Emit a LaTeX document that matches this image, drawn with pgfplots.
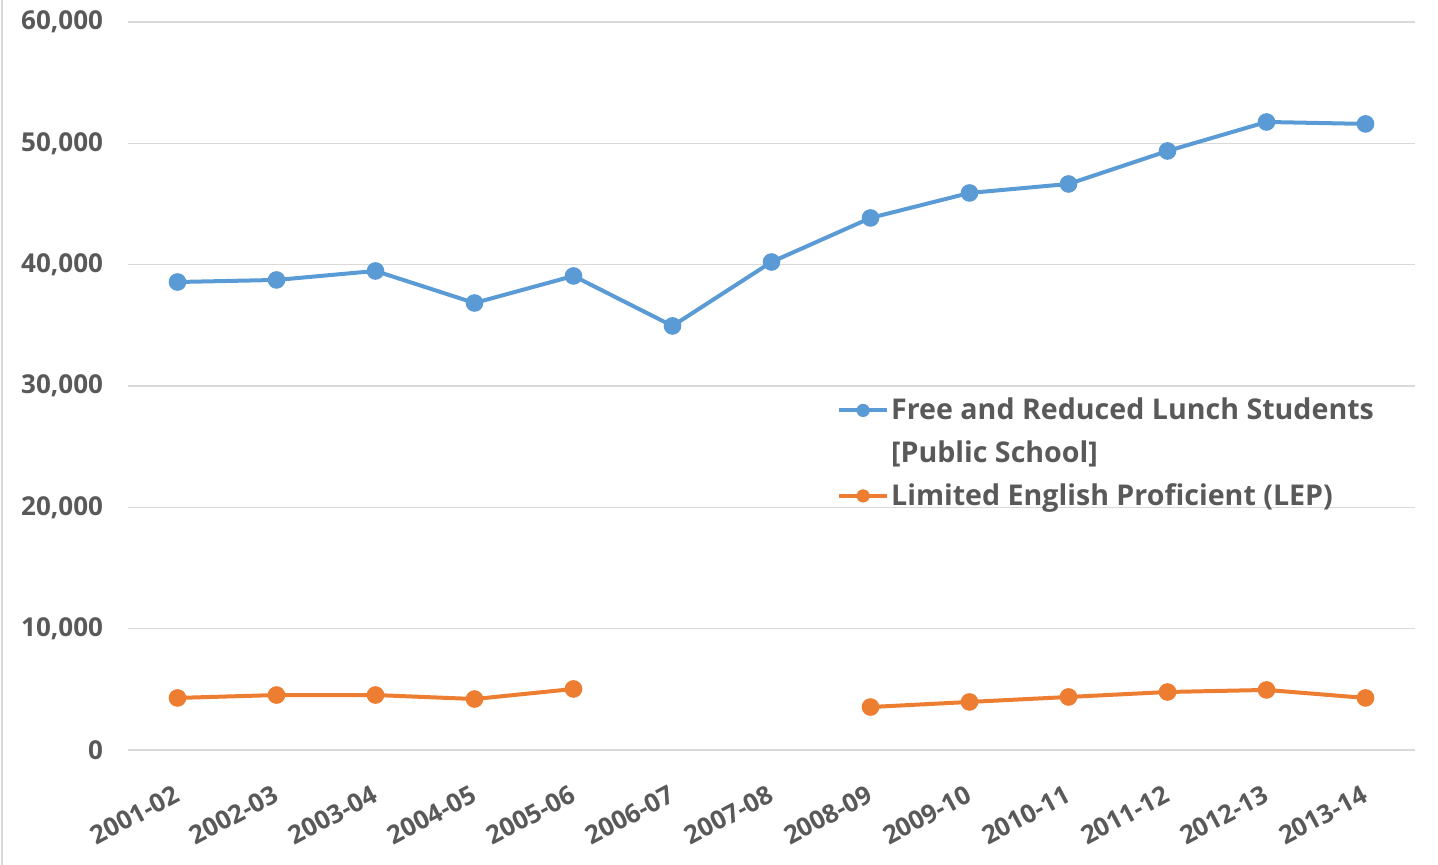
\documentclass[border=0pt]{standalone}
\usepackage{fontspec}
\setmainfont{Open Sans}
\usepackage{pgfplots}
\pgfplotsset{compat=1.18}
\definecolor{cblue}{HTML}{5B9BD5}
\definecolor{corange}{HTML}{ED7D31}
\definecolor{ctext}{HTML}{595959}
\definecolor{cgrid}{HTML}{D9D9D9}
\begin{document}
\begin{tikzpicture}[x=1pt,y=1pt]
\path[use as bounding box] (0,0) rectangle (719,432.5);
\draw[cgrid, line width=1pt] (1,0) -- (1,432.5);
\begin{axis}[
  at={(64pt,57.5pt)}, anchor=south west,
  scale only axis, width=643.5pt, height=364pt,
  xmin=-0.5, xmax=12.5, ymin=0, ymax=60000,
  axis line style={draw=none},
  ytick={0,10000,...,60000},
  xtick={0,...,12},
  xticklabels={2001-02,2002-03,2003-04,2004-05,2005-06,2006-07,2007-08,2008-09,2009-10,2010-11,2011-12,2012-13,2013-14},
  major tick length=0pt,
  ymajorgrids, grid style={cgrid, line width=0.6pt},
  scaled y ticks=false,
  /pgf/number format/.cd, 1000 sep={,}, assume math mode=true,
  /pgfplots/.cd,
  tick label style={font=\fontsize{13}{15}\selectfont\bfseries, text=ctext},
  yticklabel style={anchor=east, xshift=-9pt},
  xticklabel style={font=\fontsize{12.8}{15}\selectfont\bfseries, rotate=28, anchor=north east, xshift=-6.5pt, yshift=-10.5pt},
  unbounded coords=jump,
  legend style={draw=none, fill=none, at={(0.546,0.495)}, anchor=north west,
    font=\fontsize{14.3}{17}\selectfont\bfseries, text=ctext, row sep=5pt,
    nodes={inner xsep=1pt}},
  legend cell align=left,
  legend image code/.code={\draw[#1, line width=2pt] (0pt,0pt) -- (24pt,0pt); \fill[#1, draw=none] (12pt,0pt) circle (3.3pt);},
]
\addplot[cblue, line width=2pt, mark=*, mark size=3.4pt] coordinates {
(0,38570) (1,38740) (2,39480) (3,36840) (4,39070) (5,34950) (6,40220)
(7,43850) (8,45910) (9,46650) (10,49370) (11,51760) (12,51600)};
\addlegendentry{Free and Reduced Lunch Students}
\addlegendimage{empty legend}
\addlegendentry{[Public School]}
\addplot[corange, line width=2pt, mark=*, mark size=3.4pt] coordinates {
(0,4290) (1,4530) (2,4530) (3,4200) (4,5030) (5,nan) (6,nan)
(7,3540) (8,3960) (9,4370) (10,4780) (11,4950) (12,4290)};
\addlegendentry{Limited English Proficient (LEP)}
\end{axis}
\end{tikzpicture}
\end{document}
